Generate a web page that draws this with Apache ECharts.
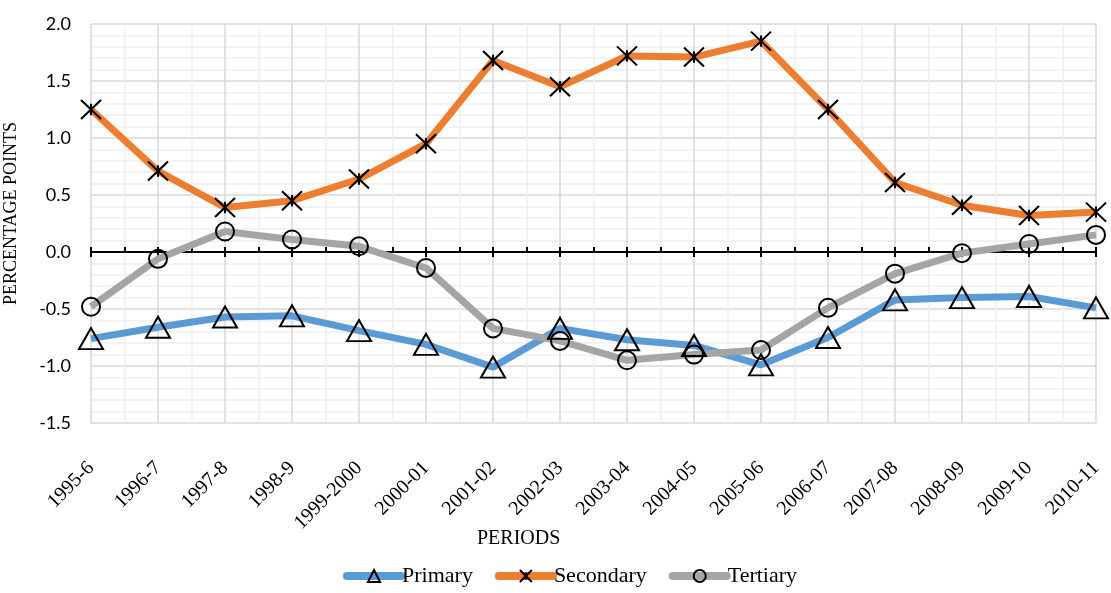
<!DOCTYPE html>
<html>
<head>
<meta charset="utf-8">
<script src="https://cdn.jsdelivr.net/npm/echarts@6/dist/echarts.min.js"></script>
<style>
  html, body { margin: 0; padding: 0; background: #fff; }
  #chart { width: 1111px; height: 593px; }
</style>
</head>
<body>
<div id="chart"></div>
<script>
  var periods = ['1995-6', '1996-7', '1997-8', '1998-9', '1999-2000', '2000-01', '2001-02', '2002-03',
    '2003-04', '2004-05', '2005-06', '2006-07', '2007-08', '2008-09', '2009-10', '2010-11']
  var primary = [-0.76, -0.66, -0.57, -0.56, -0.69, -0.81, -1.01, -0.67,
    -0.77, -0.82, -0.99, -0.75, -0.42, -0.40, -0.39, -0.49]
  var secondary = [1.25, 0.71, 0.39, 0.45, 0.64, 0.95, 1.68, 1.45,
    1.72, 1.71, 1.85, 1.25, 0.61, 0.41, 0.32, 0.35]
  var tertiary = [-0.48, -0.06, 0.18, 0.11, 0.05, -0.14, -0.67, -0.78,
    -0.95, -0.90, -0.86, -0.49, -0.19, -0.01, 0.07, 0.15]
  var yTicks = { min: -1.5, max: 2.0, step: 0.5 }

  var serif = 'Liberation Serif'
  var starPath = 'path://M0,0L20,20M20,0L0,20M10,4L10,16'

  function lineSeries (name, data, color, symbol, size) {
    return {
      name: name,
      type: 'line',
      xAxisIndex: 0,
      yAxisIndex: 0,
      data: data,
      symbol: symbol,
      symbolSize: size,
      showAllSymbol: true,
      lineStyle: { color: color, width: 7 },
      itemStyle: { color: 'rgba(0,0,0,0)', borderColor: '#000', borderWidth: 2 },
      emphasis: { disabled: true },
      animation: false
    }
  }

  var chart = echarts.init(document.getElementById('chart'))
  chart.setOption({
    animation: false,
    title: {
      text: 'PERIODS',
      left: 472,
      top: 524,
      textStyle: { fontFamily: serif, fontSize: 20, fontWeight: 'normal', color: '#000' }
    },
    legend: {
      left: 338,
      top: 560,
      itemWidth: 54,
      itemHeight: 15,
      itemGap: 22,
      lineStyle: { width: 8, cap: 'round' },
      textStyle: { fontFamily: serif, fontSize: 22, color: '#000', padding: [0, 0, 0, -4] },
      data: ['Primary', 'Secondary', 'Tertiary']
    },
    grid: {
      left: 91,
      right: 15,
      top: 24,
      bottom: 170,
      containLabel: false,
      outerBoundsMode: 'none'
    },
    xAxis: [
      {
        type: 'category',
        data: periods,
        boundaryGap: false,
        position: 'bottom',
        offset: 12,
        axisLine: { show: false, onZero: false },
        axisTick: { show: false },
        axisLabel: {
          rotate: 45,
          margin: 30,
          fontFamily: serif,
          fontSize: 20,
          color: '#000',
          interval: 0
        },
        splitLine: { show: true, lineStyle: { color: '#d9d9d9', width: 1.5 } }
      },
      {
        // zero line: major ticks up, minor ticks up
        type: 'value',
        min: 0,
        max: periods.length - 1,
        interval: 1,
        position: 'bottom',
        axisLine: { show: true, onZero: true, onZeroAxisIndex: 0, lineStyle: { color: '#000', width: 2 } },
        axisTick: { show: true, inside: true, length: 5, lineStyle: { color: '#000', width: 2 } },
        minorTick: { show: true, splitNumber: 2, length: 5, lineStyle: { color: '#000', width: 2 } },
        axisLabel: { show: false },
        splitLine: { show: false },
        minorSplitLine: { show: true, lineStyle: { color: '#efefef', width: 1.5 } }
      },
      {
        // zero line: major ticks down
        type: 'value',
        min: 0,
        max: periods.length - 1,
        interval: 1,
        position: 'bottom',
        axisLine: { show: false, onZero: true, onZeroAxisIndex: 1 },
        axisTick: { show: true, inside: false, length: 5, lineStyle: { color: '#000', width: 2 } },
        axisLabel: { show: false },
        splitLine: { show: false }
      }
    ],
    yAxis: [
      {
        type: 'value',
        min: yTicks.min,
        max: yTicks.max,
        interval: yTicks.step,
        name: 'PERCENTAGE POINTS',
        nameLocation: 'middle',
        nameGap: 71,
        nameTextStyle: { fontFamily: serif, fontSize: 18, color: '#000', padding: [0, 0, 0, 20] },
        axisLine: { show: false },
        axisTick: { show: false },
        minorTick: { show: false, splitNumber: 5 },
        axisLabel: {
          margin: 20,
          fontFamily: 'Lato',
          fontSize: 18,
          color: '#000',
          formatter: function (v) { return v.toFixed(1) }
        },
        splitLine: { show: true, lineStyle: { color: '#d9d9d9', width: 1.5 } },
        minorSplitLine: { show: true, lineStyle: { color: '#efefef', width: 1.5 } }
      },
      {
        type: 'value',
        min: yTicks.min,
        max: yTicks.max,
        interval: yTicks.step,
        position: 'right',
        show: false
      }
    ],
    series: [
      lineSeries('Primary', primary, '#5b9bd5', 'triangle', [24, 21]),
      lineSeries('Secondary', secondary, '#ed7d31', starPath, [20, 19]),
      lineSeries('Tertiary', tertiary, '#a5a5a5', 'circle', 18)
    ]
  })
</script>
</body>
</html>
